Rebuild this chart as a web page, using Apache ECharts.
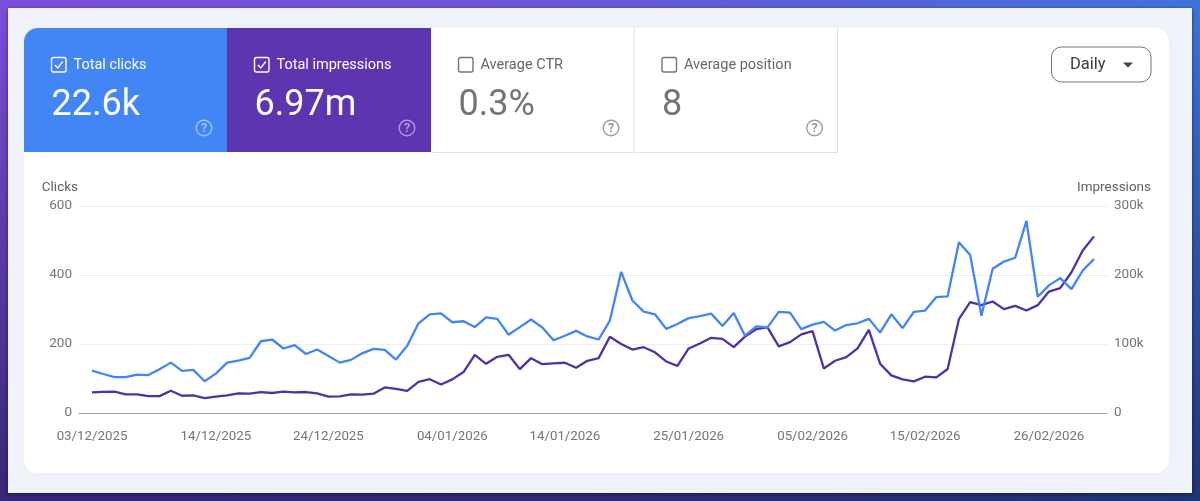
<!DOCTYPE html>
<html>
<head>
<meta charset="utf-8">
<title>Performance</title>
<style>
  html, body { margin: 0; padding: 0; background: #3a3fa0; }
  #main { width: 1200px; height: 501px; }
</style>
<script src="https://cdn.jsdelivr.net/npm/echarts@6/dist/echarts.min.js"></script>
</head>
<body>
<div id="main"></div>
<script>
// values, one per day starting 03/12/2025
const clicks = [
  123, 113, 104, 104, 111, 110, 127, 146, 122, 125,
  92, 114, 146, 152, 160, 208, 213, 187, 197, 171,
  184, 165, 146, 154, 173, 186, 183, 155, 195, 260,
  286, 289, 263, 266, 249, 277, 273, 227, 249, 271,
  248, 211, 224, 238, 222, 213, 268, 409, 326, 294,
  286, 244, 258, 275, 281, 288, 252, 290, 224, 251,
  248, 293, 291, 243, 256, 264, 239, 255, 260, 273,
  233, 286, 246, 293, 297, 336, 338, 495, 458, 282,
  418, 439, 450, 557, 337, 370, 391, 359, 413, 446
];
const impressions = [
  30000, 30500, 31000, 27000, 27000, 24500, 24500, 32300, 25000, 25500,
  21700, 23600, 25500, 28400, 28000, 30400, 29000, 31000, 30000, 30400,
  28400, 23600, 24000, 27000, 26500, 28000, 37000, 35000, 32000, 45000,
  49000, 41400, 48700, 59300, 84300, 71300, 81400, 84300, 63600, 79500,
  70800, 71800, 72800, 65500, 75700, 79500, 110400, 100000, 92000, 95400,
  88000, 74700, 68400, 93500, 100700, 109000, 107500, 95400, 110800, 121400,
  124000, 96500, 102700, 114000, 118700, 64600, 75700, 81000, 93600, 120600,
  71400, 54500, 48700, 45800, 52600, 51600, 63700, 136000, 160600, 156300,
  161600, 150500, 155300, 148600, 156300, 176000, 181000, 204000, 235400, 256000
];
// day number of each date label, counted from 03/12/2025
const dateDays = [0, 11, 21, 32, 42, 53, 64, 74, 85];
const dateLabels = [
  '03/12/2025', '14/12/2025', '24/12/2025', '04/01/2026', '14/01/2026',
  '25/01/2026', '05/02/2026', '15/02/2026', '26/02/2026'
];
const clickTicks = [0, 200, 400, 600];
const impressionTicks = [0, 100000, 200000, 300000];
const tileNames = ['Total clicks', 'Total impressions', 'Average CTR', 'Average position'];
const tileValues = ['22.6k', '6.97m', '0.3%', '8'];

const FONT = 'Roboto';
const BLUE = '#4285f4';
const PURPLE = '#5e35b1';

const clickData = clicks.map((v, i) => [i, v]);
const impressionData = impressions.map((v, i) => [i, v]);

// the four tiles on top of the card
function tile(i, x, w, fill) {
  const on = !!fill;
  const stroke = on ? '#fff' : '#757575';
  const items = [];
  if (on) {
    items.push({
      type: 'rect', z: -5, silent: true,
      shape: i === 0 ? { x: x, y: 28, width: w, height: 124, r: [14, 0, 0, 0] } : { x: x, y: 28, width: w, height: 124 },
      style: { fill: fill }
    });
  } else {
    // only a right edge and a bottom edge on the plain tiles
    items.push({
      type: 'polyline', z: -5, silent: true,
      shape: { points: [[x + w - 0.5, 28], [x + w - 0.5, 152.5], [x, 152.5]] },
      style: { fill: 'none', stroke: '#e0e0e0', lineWidth: 1 }
    });
  }
  const bx = x + 27.5;
  items.push({
    type: 'rect', z: -4, silent: true,
    shape: { x: bx, y: 57.5, width: 14.5, height: 14.5, r: 2 },
    style: { fill: 'none', stroke: stroke, lineWidth: 1.4 }
  });
  if (on) {
    items.push({
      type: 'polyline', z: -4, silent: true,
      shape: { points: [[bx + 3.5, 65], [bx + 6.3, 68], [bx + 11.3, 61.5]] },
      style: { fill: 'none', stroke: '#fff', lineWidth: 1.4 }
    });
  }
  items.push({
    type: 'text', z: -4, silent: true, x: bx + 22, y: 65.5,
    style: { text: tileNames[i], font: '400 14.5px ' + FONT, fill: on ? '#fff' : '#666', textVerticalAlign: 'middle' }
  });
  items.push({
    type: 'text', z: -4, silent: true, x: bx, y: 106,
    style: { text: tileValues[i], font: '400 36px ' + FONT, fill: on ? '#fff' : '#757575', textVerticalAlign: 'middle' }
  });
  items.push({
    type: 'circle', z: -4, silent: true,
    shape: { cx: bx + 152.5, cy: 128, r: 7.8 },
    style: { fill: 'none', stroke: on ? 'rgba(255,255,255,0.5)' : '#9e9e9e', lineWidth: 1.4 }
  });
  items.push({
    type: 'text', z: -4, silent: true, x: bx + 152.5, y: 128.5,
    style: { text: '?', font: '500 12.5px ' + FONT, fill: on ? 'rgba(255,255,255,0.55)' : '#8a8a8a', textAlign: 'center', textVerticalAlign: 'middle' }
  });
  return items;
}

const graphics = [
  // gradient frame
  {
    type: 'rect', z: -20, silent: true,
    shape: { x: 0, y: 0, width: 1200, height: 501 },
    style: {
      fill: new echarts.graphic.LinearGradient(0, 0, 1, 0, [
        { offset: 0, color: '#7d4fdc' },
        { offset: 0.5, color: '#6a58d8' },
        { offset: 1, color: '#3f74d8' }
      ])
    }
  },
  {
    type: 'rect', z: -19, silent: true,
    shape: { x: 0, y: 0, width: 1200, height: 501 },
    style: {
      fill: new echarts.graphic.LinearGradient(0, 0, 0, 1, [
        { offset: 0, color: 'rgba(10,10,50,0)' },
        { offset: 1, color: 'rgba(10,10,50,0.6)' }
      ])
    }
  },
  // light panel and white card
  {
    type: 'rect', z: -18, silent: true,
    shape: { x: 8, y: 8, width: 1184, height: 485 },
    style: { fill: '#eff2f9', shadowBlur: 4, shadowColor: 'rgba(0,0,0,0.5)', shadowOffsetY: 1 }
  },
  {
    type: 'rect', z: -17, silent: true,
    shape: { x: 24, y: 28, width: 1145, height: 445, r: 14 },
    style: { fill: '#fff' }
  }
].concat(
  tile(0, 24, 203, BLUE),
  tile(1, 227, 204, PURPLE),
  tile(2, 431, 203.5, null),
  tile(3, 634.5, 203.5, null),
  [
    // Daily dropdown
    {
      type: 'rect', z: -4, silent: true,
      shape: { x: 1051.5, y: 47, width: 99.5, height: 35, r: 10 },
      style: { fill: '#fff', stroke: '#757575', lineWidth: 1 }
    },
    {
      type: 'text', z: -4, silent: true, x: 1070, y: 65,
      style: { text: 'Daily', font: '400 16.5px ' + FONT, fill: '#3c3c3c', textVerticalAlign: 'middle' }
    },
    {
      type: 'polygon', z: -4, silent: true,
      shape: { points: [[1123, 62.5], [1133, 62.5], [1128, 67.5]] },
      style: { fill: '#444' }
    }
  ]
);

const chart = echarts.init(document.getElementById('main'));
chart.setOption({
  animation: false,
  textStyle: { fontFamily: FONT },
  graphic: graphics,
  grid: { left: 79, right: 93, top: 206, bottom: 88, containLabel: false },
  xAxis: {
    type: 'value',
    min: -1.155,
    max: clicks.length - 1 + 1.155,
    splitLine: { show: false },
    axisTick: { show: false },
    axisLine: { onZero: false, lineStyle: { color: '#9e9e9e', width: 1 } },
    axisLabel: {
      customValues: dateDays,
      hideOverlap: false,
      margin: 17,
      color: '#757575',
      fontSize: 13.3,
      fontFamily: FONT,
      formatter: function (v) { return dateLabels[dateDays.indexOf(v)]; }
    }
  },
  yAxis: [
    {
      type: 'value',
      min: clickTicks[0],
      max: clickTicks[clickTicks.length - 1],
      interval: 200,
      name: 'Clicks',
      nameLocation: 'end',
      nameGap: 18,
      nameTextStyle: { color: '#616161', fontSize: 13.5, fontFamily: FONT, align: 'right', verticalAlign: 'middle', padding: [0, 14, 0, 0] },
      axisLine: { show: false },
      axisTick: { show: false },
      splitLine: { lineStyle: { color: '#eeeeee', width: 1 } },
      axisLabel: { margin: 7, color: '#757575', fontSize: 13.5, fontFamily: FONT, padding: [5, 0, 0, 0] }
    },
    {
      type: 'value',
      min: impressionTicks[0],
      max: impressionTicks[impressionTicks.length - 1],
      interval: 100000,
      name: 'Impressions',
      nameLocation: 'end',
      nameGap: 18,
      nameTextStyle: { color: '#616161', fontSize: 13.5, fontFamily: FONT, align: 'right', verticalAlign: 'middle', padding: [0, -44, 0, 0] },
      axisLine: { show: false },
      axisTick: { show: false },
      splitLine: { show: false },
      axisLabel: {
        margin: 7,
        color: '#757575',
        fontSize: 13.5,
        fontFamily: FONT,
        padding: [5, 0, 0, 0],
        formatter: function (v) { return v === 0 ? '0' : v / 1000 + 'k'; }
      }
    }
  ],
  series: [
    {
      name: 'Impressions',
      type: 'line',
      yAxisIndex: 1,
      data: impressionData,
      showSymbol: false,
      lineStyle: { color: '#5230a6', width: 2.3 },
      itemStyle: { color: '#5230a6' }
    },
    {
      name: 'Clicks',
      type: 'line',
      yAxisIndex: 0,
      data: clickData,
      showSymbol: false,
      lineStyle: { color: BLUE, width: 2.3 },
      itemStyle: { color: BLUE }
    }
  ]
});
</script>
</body>
</html>
